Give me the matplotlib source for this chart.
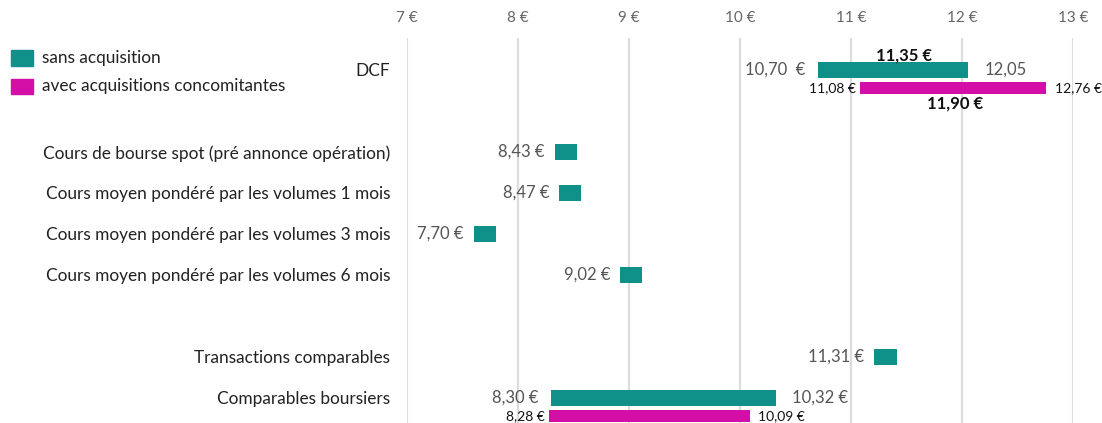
import matplotlib.pyplot as plt
from matplotlib.patches import Rectangle

# categories (row order top -> bottom, None = empty gap row)
categories = ["DCF", None,
              "Cours de bourse spot (pré annonce opération)",
              "Cours moyen pondéré par les volumes 1 mois",
              "Cours moyen pondéré par les volumes 3 mois",
              "Cours moyen pondéré par les volumes 6 mois",
              None,
              "Transactions comparables",
              "Comparables boursiers"]

# ranges "sans acquisition": (row, low, high)
teal_ranges = [(0, 10.70, 12.05), (8, 8.30, 10.32)]
teal_low_labels = ["10,70  €", "8,30 €"]
teal_high_labels = ["12,05", "10,32 €"]

# single values "sans acquisition"
teal_points_rows = [2, 3, 4, 5, 7]
teal_points = [8.43, 8.47, 7.70, 9.02, 11.31]
teal_point_labels = ["8,43 €", "8,47 €", "7,70 €", "9,02 €", "11,31 €"]

# ranges "avec acquisitions concomitantes"
mag_ranges = [(0, 11.08, 12.76), (8, 8.28, 10.09)]
mag_low_labels = ["11,08 €", "8,28 €"]
mag_high_labels = ["12,76 €", "10,09 €"]

# DCF mid values
dcf_mid_teal = 11.35
dcf_mid_mag = 11.90

xticks = [7, 8, 9, 10, 11, 12, 13]
xtick_labels = ["7 €", "8 €", "9 €", "10 €", "11 €", "12 €", "13 €"]

TEAL = "#0F918A"
MAGENTA = "#D40FA8"
GRAY = "#555555"
FONT = "Lato"
FS = 12
FS_CAT = 12.4

plt.rcParams["font.family"] = [FONT, "DejaVu Sans"]

fig = plt.figure(figsize=(11.02, 4.23), dpi=100)
ax = fig.add_axes((407 / 1102, 0, 666 / 1102, 385 / 423))

ax.set_xlim(7, 13)
ax.set_ylim(8.61, -0.78)

ax.set_xticks(xticks)
ax.set_xticklabels(xtick_labels, color="#666666", fontsize=11)
ax.xaxis.tick_top()
ax.tick_params(axis="x", length=0, pad=9)
ax.grid(axis="x", color="#DCDCDC", linewidth=1.6)
ax.set_axisbelow(True)

rows = [i for i, c in enumerate(categories) if c is not None]
ax.set_yticks(rows)
ax.set_yticklabels([c for c in categories if c is not None], fontsize=FS_CAT, color="#222222")
ax.tick_params(axis="y", length=0, pad=12)

for s in ax.spines.values():
    s.set_visible(False)

teal_h = 0.39
mag_h = 0.30
mag_off = 0.44
pt_w = 0.2


def label(x, y, txt, dx, ha, color=GRAY, size=FS, weight="normal", dy=0):
    ax.annotate(txt, (x, y), xytext=(dx, dy), textcoords="offset points",
                ha=ha, va="center", color=color, fontsize=size,
                fontweight=weight, annotation_clip=False)


for (r, lo, hi), ll, hl in zip(teal_ranges, teal_low_labels, teal_high_labels):
    ax.barh(r, hi - lo, left=lo, height=teal_h, color=TEAL)
    label(lo, r, ll, -9, "right")
    label(hi, r, hl, 12, "left")

for r, v, t in zip(teal_points_rows, teal_points, teal_point_labels):
    ax.barh(r, pt_w, left=v - pt_w / 2, height=teal_h, color=TEAL)
    label(v - pt_w / 2, r, t, -7, "right")

for (r, lo, hi), ll, hl in zip(mag_ranges, mag_low_labels, mag_high_labels):
    y = r + mag_off
    ax.barh(y, hi - lo, left=lo, height=mag_h, color=MAGENTA)
    label(lo, y, ll, -3, "right", color="#111111", size=10)
    label(hi, y, hl, 6, "left", color="#111111", size=10)

# bold DCF mid values
label(dcf_mid_teal, -0.36, "11,35 €", 10, "center", color="#111111",
      weight="bold")
label(dcf_mid_mag, 0.81, "11,90 €", 3, "center", color="#111111",
      weight="bold")

# legend
fig.add_artist(Rectangle((11 / 1102, 1 - 66 / 423), 22 / 1102, 16 / 423,
                         transform=fig.transFigure, color=TEAL))
fig.add_artist(Rectangle((11 / 1102, 1 - 94 / 423), 22 / 1102, 15 / 423,
                         transform=fig.transFigure, color=MAGENTA))
fig.text(42 / 1102, 1 - 58 / 423, "sans acquisition", fontsize=FS_CAT,
         color="#222222", va="center")
fig.text(42 / 1102, 1 - 86 / 423, "avec acquisitions concomitantes",
         fontsize=FS_CAT, color="#222222", va="center")

fig.savefig("out.png", dpi=100)
